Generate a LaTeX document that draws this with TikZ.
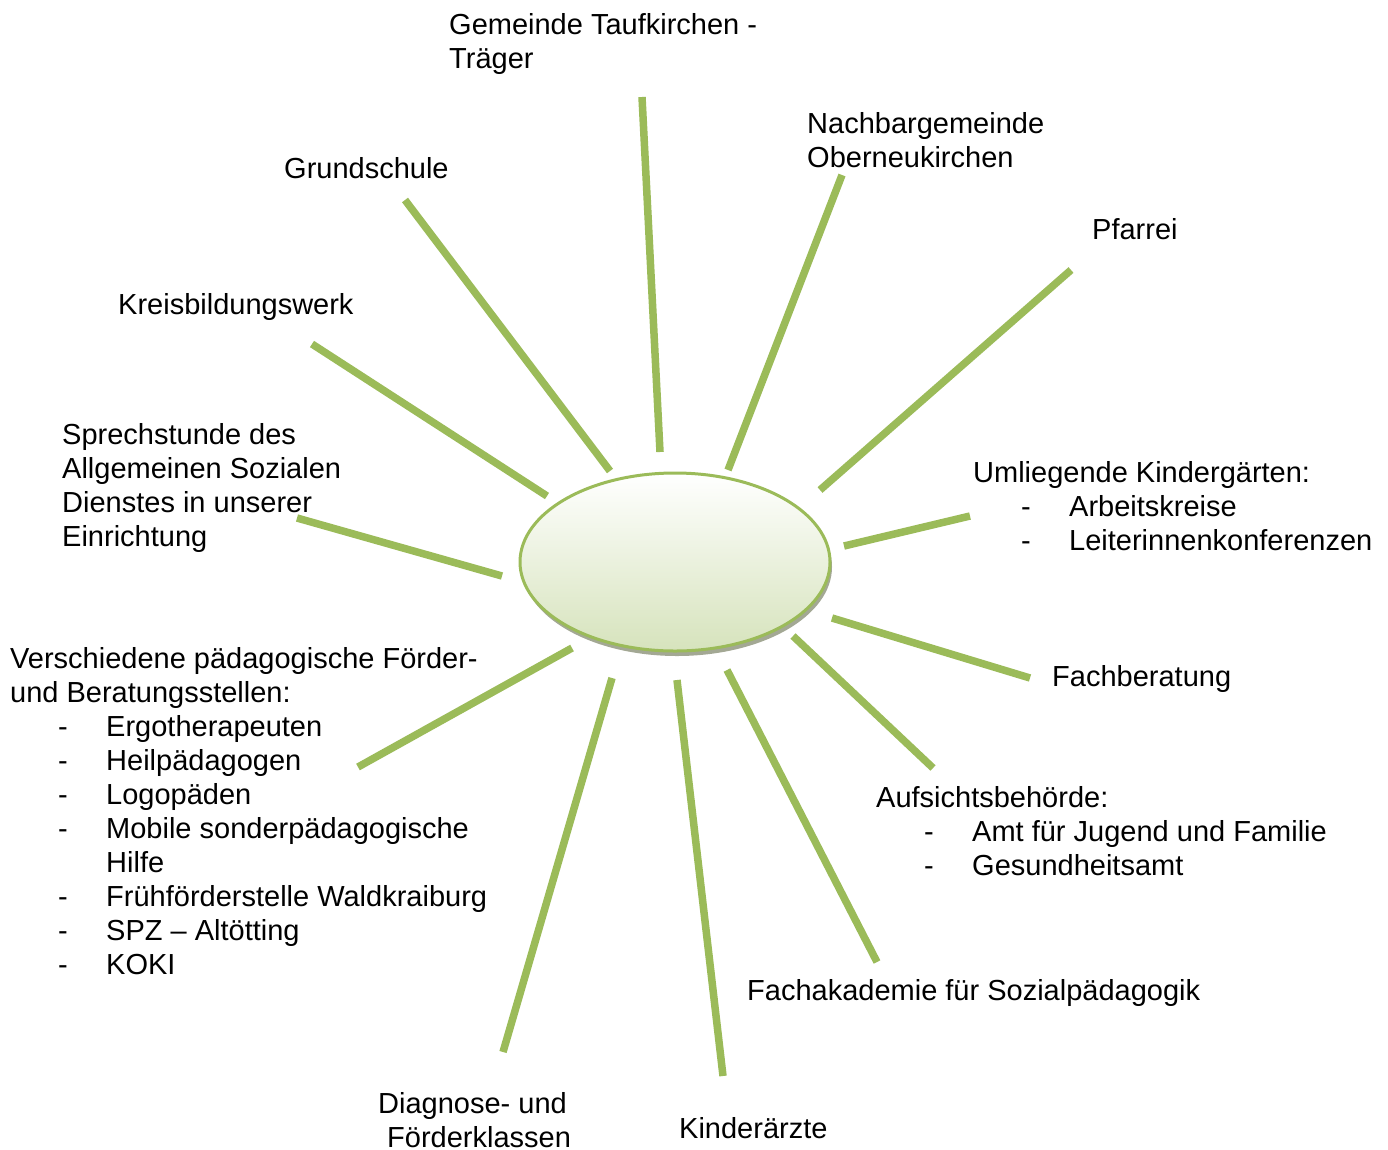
\documentclass[tikz,border=0pt]{standalone}
\usepackage{fontspec}
\setmainfont{Liberation Sans}
\usepackage{tikz}
\usetikzlibrary{shapes.geometric,shadows}
\definecolor{spokegreen}{RGB}{155,187,89}
\definecolor{hubgreen}{RGB}{214,227,188}
\definecolor{hubshadow}{RGB}{163,168,148}
\newcommand{\entry}[1]{\makebox[96pt][l]{\hspace*{48pt}-}#1}

\begin{document}
\begin{tikzpicture}[x=1pt,y=-1pt,
          every node/.style={font=\fontsize{29}{33.9}\selectfont,inner sep=0pt,anchor=base west,align=left},
          spoke/.style={draw=spokegreen,line width=7.5pt},
          hub/.style={ellipse,anchor=center,draw=spokegreen,line width=3pt,top color=white,bottom color=hubgreen,
            minimum width=310pt,minimum height=178pt,
            drop shadow={shadow xshift=2pt,shadow yshift=-5pt,fill=hubshadow,opacity=1}}]
        \useasboundingbox (0,0) rectangle (1388,1149);
        \node[hub] (hub) at (675,562) {};
        % labels, placed at the baseline of their last line
        \node (traeger) at (449,68) {Gemeinde Taufkirchen -\\Träger};
        \node (nachbar) at (807,167) {Nachbargemeinde\\Oberneukirchen};
        \node (pfarrei) at (1092,239) {Pfarrei};
        \node (schule) at (284,178) {Grundschule};
        \node (kbw) at (118,314) {Kreisbildungswerk};
        \node (asd) at (62,546) {Sprechstunde des\\Allgemeinen Sozialen\\Dienstes in unserer\\Einrichtung};
        \node (kiga) at (973,550) {Umliegende Kindergärten:\\\entry{Arbeitskreise}\\\entry{Leiterinnenkonferenzen}};
        \node (fachb) at (1052,686) {Fachberatung};
        \node (aufsicht) at (876,875) {Aufsichtsbehörde:\\\entry{Amt für Jugend und Familie}\\\entry{Gesundheitsamt}};
        \node (fak) at (747,1000) {Fachakademie für Sozialpädagogik};
        \node (aerzte) at (679,1138) {Kinderärzte};
        \node (diag) at (378,1147) {Diagnose- und\\\hspace*{9pt}Förderklassen};
        \node (foerder) at (10,974) {Verschiedene pädagogische Förder-\\und Beratungsstellen:\\\entry{Ergotherapeuten}\\\entry{Heilpädagogen}\\\entry{Logopäden}\\\entry{Mobile sonderpädagogische}\\\hspace*{96pt}Hilfe\\\entry{Frühförderstelle Waldkraiburg}\\\entry{SPZ – Altötting}\\\entry{KOKI}};
        % spokes
        \foreach \n/\xa/\ya/\xb/\yb in {traeger/642/97/660/452, nachbar/842/175/728/470, pfarrei/1071/270/820/490,
            kiga/970/516/844/546, fachb/1030/678/832/618, aufsicht/933/768/793/636, fak/877/962/727/670,
            aerzte/723/1076/677/680, diag/503/1052/612/678, foerder/358/767/572/648, asd/297/518/502/576,
            kbw/312/344/547/496, schule/405/200/610/471}{
          \coordinate (\n-out) at (\xa,\ya);
          \coordinate (\n-in) at (\xb,\yb);
          \draw[spoke] (\n-out) -- (\n-in);
        }
      \end{tikzpicture}
\end{document}
